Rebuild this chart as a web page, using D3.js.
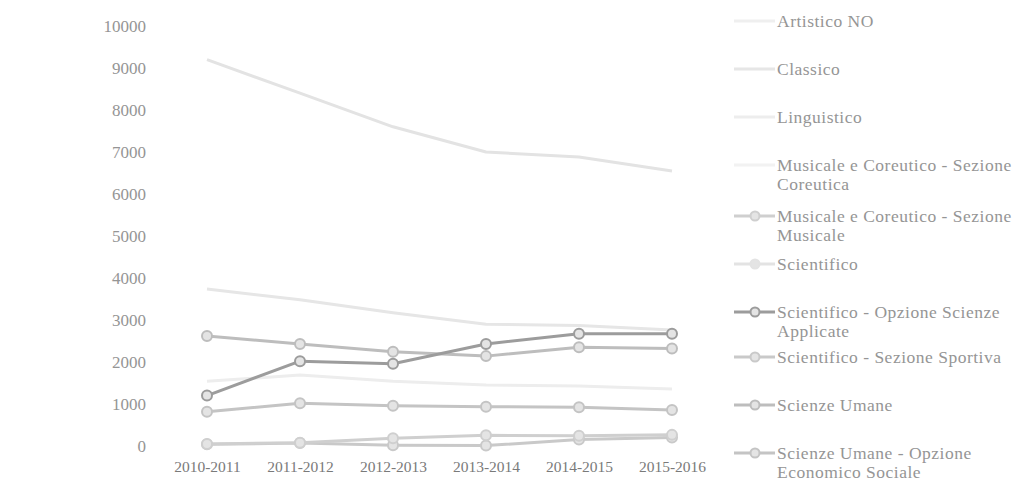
<!DOCTYPE html>
<html><head><meta charset="utf-8">
<script src="https://cdn.jsdelivr.net/npm/d3@7"></script>
<style>body{margin:0;background:#fff}svg{display:block}</style>
</head><body>
<svg id="c" width="1024" height="483"></svg>
<script>
const years = ["2010-2011","2011-2012","2012-2013","2013-2014","2014-2015","2015-2016"];
const yTicks = [0,1000,2000,3000,4000,5000,6000,7000,8000,9000,10000];
const seriesNames = ["Artistico NO","Classico","Linguistico","Musicale e Coreutico - Sezione Coreutica","Musicale e Coreutico - Sezione Musicale","Scientifico","Scientifico - Opzione Scienze Applicate","Scientifico - Sezione Sportiva","Scienze Umane","Scienze Umane - Opzione Economico Sociale"];
const artistico   = [null,null,null,null,null,null];
const classico    = [3740,3480,3170,2900,2870,2760];
const linguistico = [1540,1690,1540,1450,1430,1360];
const coreutica   = [null,null,null,null,null,null];
const musicale    = [50,80,185,255,245,265];
const scientifico = [9200,8400,7600,7000,6880,6550];
const applicate   = [1200,2020,1960,2430,2670,2670];
const sportiva    = [40,70,20,10,155,205];
const umane       = [2620,2430,2245,2140,2350,2320];
const economico   = [817,1017,960,937,922,857];
const seriesValues = [artistico,classico,linguistico,coreutica,musicale,scientifico,applicate,sportiva,umane,economico];

const colors = ["#efefef","#e6e6e6","#ededed","#f2f2f2","#cfcfcf","#e3e3e3","#9c9c9c","#c9c9c9","#bdbdbd","#c4c4c4"];
const showMarker = [false,false,false,false,true,false,true,true,true,true];

const svg = d3.select("#c");
const x = d3.scalePoint().domain(years).range([160.5,718.5]).padding(0.5);
const y = d3.scaleLinear().domain([0,10000]).range([446,26]);

const font = "'Liberation Serif', 'DejaVu Serif', serif";

// y axis
const ya = svg.append("g").attr("transform","translate(146,0)")
  .call(d3.axisLeft(y).tickValues(yTicks).tickSize(0).tickPadding(0).tickFormat(d3.format("d")));
ya.select(".domain").remove();
ya.selectAll("text").attr("font-family",font).attr("font-size",17).attr("fill","#959595");

// x axis
const xa = svg.append("g").attr("transform","translate(0,458)")
  .call(d3.axisBottom(x).tickSize(0).tickPadding(0));
xa.select(".domain").remove();
xa.selectAll("text").attr("font-family",font).attr("font-size",15.5).attr("fill","#7a7a7a").attr("dy","0.9em");

const line = d3.line().defined(d=>d.v!=null).x(d=>x(d.c)).y(d=>y(d.v));

const order = [0,3,2,1,5,7,4,9,8,6];
order.forEach(i=>{
  const data = years.map((c,j)=>({c, v: seriesValues[i][j]}));
  svg.append("path").datum(data).attr("d",line).attr("fill","none")
    .attr("stroke",colors[i]).attr("stroke-width",3).attr("stroke-linejoin","round");
  if(showMarker[i]){
    svg.append("g").selectAll("circle").data(data.filter(d=>d.v!=null)).join("circle")
      .attr("cx",d=>x(d.c)).attr("cy",d=>y(d.v)).attr("r",5)
      .attr("fill","#e4e4e4").attr("stroke",colors[i]).attr("stroke-width",2);
  }
});

// legend
const wraps = [
  ["Artistico NO"],["Classico"],["Linguistico"],
  ["Musicale e Coreutico - Sezione","Coreutica"],
  ["Musicale e Coreutico - Sezione","Musicale"],
  ["Scientifico"],
  ["Scientifico - Opzione Scienze","Applicate"],
  ["Scientifico - Sezione Sportiva"],
  ["Scienze Umane"],
  ["Scienze Umane - Opzione","Economico Sociale"]
];
const lg = svg.append("g");
seriesNames.forEach((n,i)=>{
  const yy = 21 + 48*i + (i>=4 && i<=6 ? 3 : 0);
  const g = lg.append("g").attr("transform",`translate(0,${yy})`);
  g.append("line").attr("x1",734).attr("x2",775).attr("y1",0).attr("y2",0)
    .attr("stroke",colors[i]).attr("stroke-width",3);
  if(showMarker[i] || i===5){
    g.append("circle").attr("cx",755).attr("cy",0).attr("r",4.5)
      .attr("fill","#e4e4e4").attr("stroke",colors[i]).attr("stroke-width",2);
  }
  const t = g.append("text").attr("x",777).attr("y",0).attr("font-family",font)
    .attr("font-size",17.5).attr("letter-spacing","0.5px").attr("fill","#959595");
  wraps[i].forEach((s,k)=>{
    t.append("tspan").attr("x",777).attr("dy",k===0?"0.35em":"18.5").text(s);
  });
});
</script>
</body></html>
